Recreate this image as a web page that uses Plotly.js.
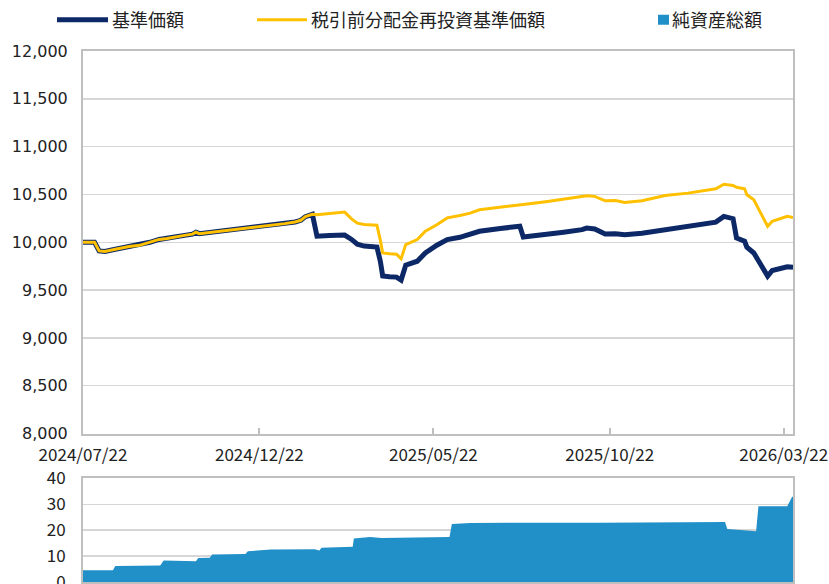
<!DOCTYPE html>
<html><head><meta charset="utf-8">
<script src="https://cdn.plot.ly/plotly-3.0.1.min.js"></script>
<style>html,body{margin:0;padding:0;background:#fff}</style>
</head><body><div id="chart" style="width:829px;height:584px"></div>
<script>
// 基準価額 / 税引前分配金再投資基準価額
const navDates = [
 '2024-07-22','2024-08-01','2024-08-05','2024-08-10','2024-08-18','2024-08-24','2024-08-31','2024-09-09','2024-09-18','2024-09-26',
 '2024-10-03','2024-10-10','2024-10-18','2024-10-25','2024-10-28','2024-10-31','2024-11-06','2024-11-13','2024-11-20','2024-11-26','2024-12-02','2024-12-09',
 '2024-12-15','2024-12-21','2024-12-28','2025-01-05','2025-01-13','2025-01-22','2025-01-27','2025-01-31','2025-02-06','2025-02-10','2025-02-21',
 '2025-03-02','2025-03-06','2025-03-12','2025-03-17','2025-03-23','2025-03-31','2025-04-03','2025-04-06',
 '2025-04-08','2025-04-14','2025-04-20','2025-04-24','2025-04-28','2025-05-08','2025-05-15','2025-05-25',
 '2025-06-03','2025-06-14','2025-06-23','2025-07-01','2025-07-19','2025-08-05','2025-08-08','2025-08-29',
 '2025-09-12','2025-09-28','2025-10-02','2025-10-09','2025-10-18','2025-10-27','2025-11-04','2025-11-19',
 '2025-11-30','2025-12-09','2025-12-29','2026-01-22','2026-01-29','2026-02-06','2026-02-09','2026-02-16',
 '2026-02-18','2026-02-24','2026-03-02','2026-03-08','2026-03-12','2026-03-20','2026-03-25','2026-03-30'
];
const navValues = [
 10000,10000,9910,9905,9925,9940,9955,9968,10000,10030,
 10040,10058,10072,10085,10105,10090,10098,10112,10120,10128,10140,10145,
 10152,10160,10168,10180,10195,10212,10230,10268,10292,10063,10070,
 10082,10075,10030,9980,9960,9955,9950,9800,
 9648,9640,9636,9605,9760,9802,9888,9969,
 10028,10052,10087,10115,10145,10167,10055,10080,
 10105,10132,10149,10140,10087,10090,10080,10095,
 10115,10142,10167,10211,10271,10247,10045,10011,
 9948,9888,9768,9646,9705,9726,9743,9740
];
const reinvValues = [
 10000,10000,9910,9905,9925,9940,9955,9968,10000,10030,
 10040,10058,10072,10085,10105,10090,10098,10112,10120,10128,10140,10145,
 10152,10160,10168,10180,10195,10212,10230,10268,10292,10288,10298,
 10312,10316,10245,10200,10185,10180,10178,10020,
 9888,9880,9876,9828,9976,10028,10115,10184,
 10255,10280,10305,10340,10370,10393,10396,10427,
 10450,10472,10486,10480,10434,10437,10417,10435,
 10469,10490,10514,10559,10607,10594,10575,10560,
 10497,10445,10305,10167,10219,10247,10271,10260
];
// 純資産総額（億円）
const aumDates = [
 '2024-07-22','2024-08-17','2024-08-19','2024-09-27','2024-09-30','2024-10-28','2024-10-30','2024-11-09',
 '2024-11-11','2024-12-10','2024-12-12','2024-12-25','2025-01-01','2025-02-08','2025-02-12','2025-02-14',
 '2025-02-27','2025-03-01','2025-03-13','2025-03-14','2025-03-28','2025-04-07','2025-06-05','2025-06-07',
 '2025-06-23','2025-10-14','2026-01-30','2026-02-01','2026-02-26','2026-02-28','2026-03-25','2026-03-29','2026-03-30'
];
const aumValues = [
 4.5,4.5,6.2,6.4,8.3,8.0,9.3,9.4,
 10.6,10.8,11.9,12.3,12.5,12.6,12.2,13.2,
 13.3,13.6,13.6,16.8,17.4,17.0,17.4,22.4,
 22.8,22.9,23.2,20.5,19.6,29.2,29.2,32.7,33.0
];
const xTickVals = ['2024-07-22','2024-12-22','2025-05-22','2025-10-22','2026-03-22'];
const xTickText = ['2024/07/22','2024/12/22','2025/05/22','2025/10/22','2026/03/22'];
const seriesNames = ['基準価額','税引前分配金再投資基準価額','純資産総額'];

const W = 829, H = 584, L = 83, R = 36, T = 49, B = 2;
const pw = W - L - R, ph = H - T - B;
const px = v => (v - L) / pw;
const py = v => (H - B - v) / ph;

const jp = 'Noto Sans CJK JP, Noto Sans, sans-serif';
const grid = '#d6d6d6', axis = '#bfbfbf', txt = '#222222';

const traces = [
 {x: navDates, y: navValues, type: 'scatter', mode: 'lines', name: seriesNames[0],
  line: {color: '#0c2866', width: 5}, xaxis: 'x', yaxis: 'y', legend: 'legend'},
 {x: navDates, y: reinvValues, type: 'scatter', mode: 'lines', name: seriesNames[1],
  line: {color: '#ffc000', width: 3}, xaxis: 'x', yaxis: 'y', legend: 'legend2'},
 {x: aumDates, y: aumValues, type: 'scatter', mode: 'lines', name: seriesNames[2],
  fill: 'tozeroy', fillcolor: '#2190c8', line: {color: '#2190c8', width: 0},
  xaxis: 'x2', yaxis: 'y2', legend: 'legend3'}
];

const legBase = {orientation: 'h', xanchor: 'left', yanchor: 'middle', bgcolor: 'rgba(0,0,0,0)',
  font: {family: jp, size: 18, color: txt}};

const layout = {
 width: W, height: H, margin: {l: L, r: R, t: T, b: B},
 paper_bgcolor: '#ffffff', plot_bgcolor: '#ffffff',
 showlegend: true,
 legend: Object.assign({}, legBase, {x: px(52), y: py(18), itemwidth: 50}),
 legend2: Object.assign({}, legBase, {x: px(251), y: py(18), itemwidth: 50}),
 legend3: Object.assign({}, legBase, {x: px(632), y: py(18), itemwidth: 30}),
 xaxis: {type: 'date', domain: [0, 1], anchor: 'y', range: ['2024-07-22', '2026-03-30'],
  tickmode: 'array', tickvals: xTickVals, ticktext: xTickText,
  ticks: 'inside', ticklen: 6, tickwidth: 2, tickcolor: axis,
  showline: true, linecolor: axis, linewidth: 2, mirror: true, showgrid: false, zeroline: false,
  tickfont: {family: jp, size: 17, color: txt}, ticklabelstandoff: 5, ticklabeloverflow: 'allow'},
 yaxis: {domain: [py(433), 1], anchor: 'x', range: [8000, 12000], tick0: 8000, dtick: 500,
  tickformat: ',d', showgrid: true, gridcolor: grid, gridwidth: 1.5,
  showline: true, linecolor: axis, linewidth: 2, mirror: true, zeroline: false, ticks: '',
  tickfont: {family: 'DejaVu Sans, Verdana, sans-serif', size: 16, color: txt}, ticklabelstandoff: 10},
 xaxis2: {type: 'date', domain: [0, 1], anchor: 'y2', range: ['2024-07-22', '2026-03-30'],
  showticklabels: false, ticks: '', showline: true, linecolor: axis, linewidth: 2, mirror: true,
  showgrid: false, zeroline: false},
 yaxis2: {domain: [0, py(478)], anchor: 'x2', range: [0, 40], tick0: 0, dtick: 10,
  showgrid: true, gridcolor: grid, gridwidth: 1.5,
  showline: true, linecolor: axis, linewidth: 2, mirror: true, zeroline: false, ticks: '',
  tickfont: {family: jp, size: 17, color: txt}, ticklabelstandoff: 12, ticklabeloverflow: 'allow'}
};

Plotly.newPlot('chart', traces, layout, {displayModeBar: false, staticPlot: true}).then(gd => {
  // longer line swatches and a small square swatch for the area, as in the original legend
  const setPath = (cls, sel, d) => {
    const g = gd.querySelector('g.' + cls);
    if (!g) return;
    g.querySelectorAll(sel).forEach(p => p.setAttribute('d', d));
  };
  setPath('legend', '.legendlines path', 'M5,0h51');
  setPath('legend2', '.legendlines path', 'M6,0h50');
  setPath('legend3', '.legendfill path', 'M26,-5h11v10h-11z');
  setPath('legend3', '.legendlines path', 'M0,0');
});
</script></body></html>
